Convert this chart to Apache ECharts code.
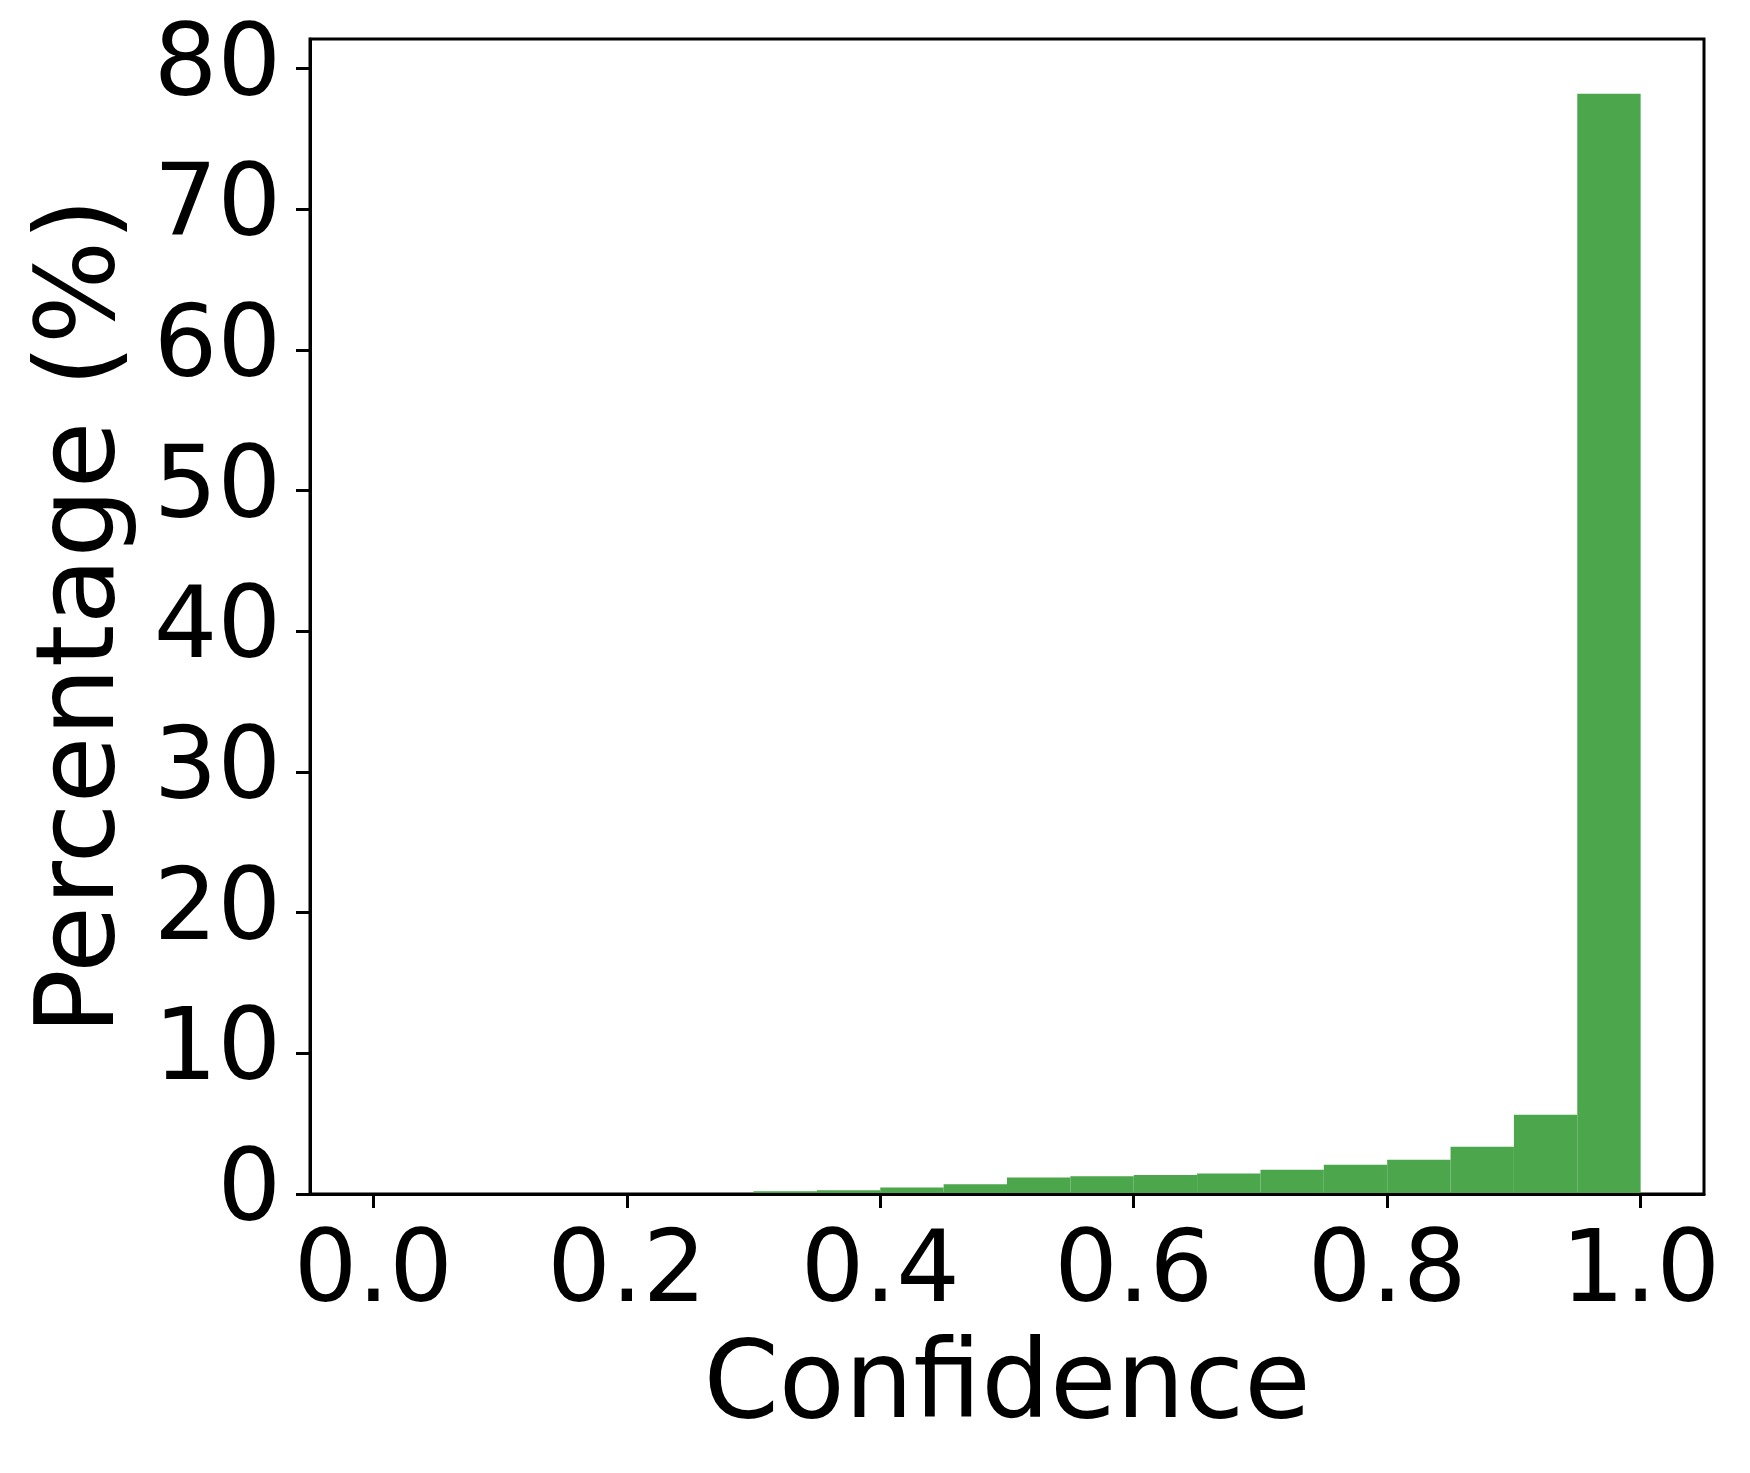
<!DOCTYPE html>
<html>
<head>
<meta charset="utf-8">
<title>Confidence histogram</title>
<script src="https://cdn.jsdelivr.net/npm/echarts@6/dist/echarts.min.js"></script>
<style>
    html, body { margin: 0; padding: 0; background: #fff; }
    #chart { width: 1750px; height: 1473px; }
</style>
</head>
<body>
<div id="chart"></div>
<script>
// histogram bins (left edges), width 0.05
var binStarts = [0.00, 0.05, 0.10, 0.15, 0.20, 0.25, 0.30, 0.35, 0.40, 0.45,
                 0.50, 0.55, 0.60, 0.65, 0.70, 0.75, 0.80, 0.85, 0.90, 0.95];
var binWidth = 0.05;
// percentage of samples in each bin
var percentages = [0, 0, 0, 0, 0, 0, 0.19, 0.26, 0.47, 0.69,
                   1.18, 1.26, 1.35, 1.46, 1.73, 2.08, 2.44, 3.36, 5.64, 78.2];
var xTicks = [0, 0.2, 0.4, 0.6, 0.8, 1.0];
var yTicks = [0, 10, 20, 30, 40, 50, 60, 70, 80];

(function () {
    var barColor = '#4ca64c';
    var font = 'DejaVu Sans';

    var data = [];
    for (var i = 0; i < binStarts.length; i++) {
        data.push([binStarts[i], binStarts[i] + binWidth, percentages[i]]);
    }

    var chart = echarts.init(document.getElementById('chart'), null, { renderer: 'canvas' });
    var option = {
        animation: false,
        backgroundColor: '#fff',
        grid: {
            left: 310,
            right: 46,
            top: 39,
            bottom: 279,
            show: true,
            borderColor: '#000',
            borderWidth: 3,
            backgroundColor: 'transparent'
        },
        xAxis: {
            type: 'value',
            min: -0.05,
            max: 1.05,
            z: 5,
            name: 'Confidence',
            nameLocation: 'middle',
            nameGap: 141,
            nameTextStyle: { fontFamily: font, fontSize: 108, color: '#000' },
            axisLine: { show: true, onZero: false, lineStyle: { color: '#000', width: 3 } },
            axisTick: {
                show: true,
                length: 14,
                lineStyle: { color: '#000', width: 3 },
                customValues: xTicks
            },
            axisLabel: {
                fontFamily: font,
                fontSize: 100,
                color: '#000',
                margin: 31,
                customValues: xTicks,
                formatter: function (v) { return v.toFixed(1); }
            },
            splitLine: { show: false }
        },
        yAxis: {
            type: 'value',
            min: 0,
            max: 82.1,
            z: 5,
            name: 'Percentage (%)',
            nameLocation: 'middle',
            nameRotate: 90,
            nameGap: 171,
            nameTextStyle: { fontFamily: font, fontSize: 109, color: '#000' },
            axisLine: { show: true, onZero: false, lineStyle: { color: '#000', width: 3 } },
            axisTick: {
                show: true,
                length: 14,
                lineStyle: { color: '#000', width: 3 },
                customValues: yTicks
            },
            axisLabel: {
                fontFamily: font,
                fontSize: 100,
                color: '#000',
                margin: 29,
                customValues: yTicks
            },
            splitLine: { show: false }
        },
        series: [{
            type: 'custom',
            z: 1,
            renderItem: function (params, api) {
                var topLeft = api.coord([api.value(0), api.value(2)]);
                var bottomRight = api.coord([api.value(1), 0]);
                return {
                    type: 'rect',
                    shape: {
                        x: topLeft[0],
                        y: topLeft[1],
                        width: bottomRight[0] - topLeft[0],
                        height: bottomRight[1] - topLeft[1]
                    },
                    style: { fill: barColor }
                };
            },
            encode: { x: [0, 1], y: 2 },
            data: data
        }]
    };
    chart.setOption(option);

    window.addEventListener('resize', function () {
        chart.resize();
    });
})();
</script>
</body>
</html>
